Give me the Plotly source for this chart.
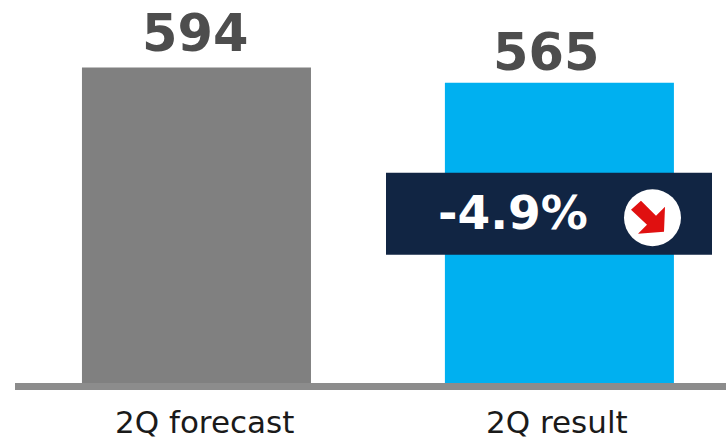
import plotly.graph_objects as go

categories = ["2Q forecast", "2Q result"]
values = [594, 565]
bar_colors = ["#808080", "#00b0f0"]
change_label = "-4.9%"

WIDTH, HEIGHT = 726, 438
LEFT, BASE = 15, 383.5
FONT = "DejaVu Sans"


def px(x):
    return (x - LEFT) / (WIDTH - LEFT)


def py(y):
    return (BASE - y) / BASE


arrow = [(641, 201), (656, 216), (665, 207), (664, 232), (638, 234), (647, 225), (631, 210)]
arrow_path = "M " + " L ".join(f"{px(x):.5f},{py(y):.5f}" for x, y in arrow) + " Z"

# Value labels and category labels sit slightly off the bar centres
value_xshift = [-1, -13]
value_yshift = [2, -1]
category_xshift = [8, -2]

annotations = [
    dict(text=change_label, xref="paper", yref="paper", x=px(513), y=py(213),
         xanchor="center", yanchor="middle", showarrow=False,
         font=dict(family=FONT, size=47, color="white", weight="bold")),
]
for cat, val, vx, vy, cx in zip(categories, values, value_xshift, value_yshift, category_xshift):
    annotations.append(
        dict(text=str(val), x=cat, y=val, xref="x", yref="y", xanchor="center",
             yanchor="bottom", yshift=vy, xshift=vx, showarrow=False,
             font=dict(family=FONT, size=51, color="#4d4d4d", weight="bold"))
    )
    annotations.append(
        dict(text=cat, x=cat, y=0, xref="x", yref="y", xanchor="center",
             yanchor="top", yshift=-19, xshift=cx, showarrow=False,
             font=dict(family=FONT, size=31, color="#1a1a1a"))
    )

fig = go.Figure(
    go.Bar(
        x=categories,
        y=values,
        width=0.631,
        marker=dict(color=bar_colors, line_width=0),
    )
)

fig.update_layout(
    width=WIDTH,
    height=HEIGHT,
    margin=dict(l=LEFT, r=0, t=0, b=HEIGHT - BASE, pad=0),
    paper_bgcolor="white",
    plot_bgcolor="white",
    showlegend=False,
    xaxis=dict(
        range=[-0.5, 1.459],
        showgrid=False,
        showline=True,
        linecolor="#8c8c8c",
        linewidth=7,
        ticks="",
        showticklabels=False,
    ),
    yaxis=dict(range=[0, 721], visible=False),
    shapes=[
        dict(type="rect", xref="paper", yref="paper", layer="above",
             x0=px(386), x1=px(712), y0=py(255), y1=py(173),
             fillcolor="#112543", line_width=0),
        dict(type="circle", xref="paper", yref="paper", layer="above",
             x0=px(624), x1=px(681), y0=py(246.5), y1=py(189.5),
             fillcolor="white", line_width=0),
        dict(type="path", xref="paper", yref="paper", layer="above",
             path=arrow_path, fillcolor="#e01010", line_width=0),
    ],
    annotations=annotations,
)

fig.write_html("out.html")
